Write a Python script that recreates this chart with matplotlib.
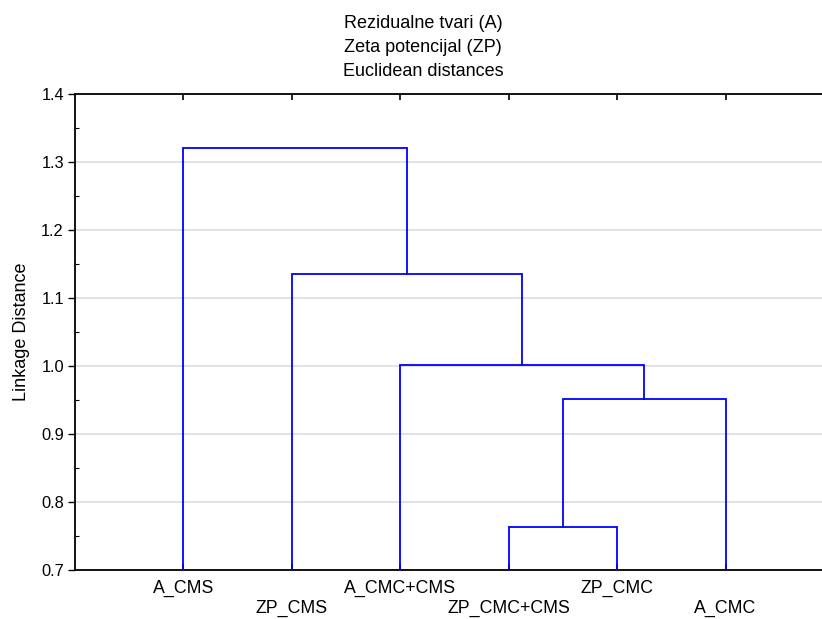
import matplotlib
matplotlib.use("Agg")
from matplotlib import pyplot as plt
from matplotlib.ticker import MultipleLocator

plt.rcParams['font.family'] = ['Liberation Sans', 'DejaVu Sans']

leaves = ['A_CMS', 'ZP_CMS', 'A_CMC+CMS', 'ZP_CMC+CMS', 'ZP_CMC', 'A_CMC']
# merges: (left cluster, right cluster, linkage distance); new clusters get ids 6, 7, ...
merges = [(3, 4, 0.763), (6, 5, 0.952), (2, 7, 1.001), (1, 8, 1.136), (0, 9, 1.321)]
title_lines = ['Rezidualne tvari (A)', 'Zeta potencijal (ZP)', 'Euclidean distances']

fig = plt.figure(figsize=(8.22, 6.19), dpi=100)
ax = fig.add_axes([75 / 822, 1 - 570 / 619, 1 - 75 / 822, (570 - 94) / 619])

pos = {i: (i + 1, 0.7) for i in range(len(leaves))}
for k, (a, b, h) in enumerate(merges):
    xa, ya = pos[a]
    xb, yb = pos[b]
    ax.plot([xa, xa, xb, xb], [ya, h, h, yb], color='#0000ff', lw=1.3,
            solid_joinstyle='miter', zorder=3)
    pos[len(leaves) + k] = ((xa + xb) / 2, h)

ax.set_xlim(0, 6.89)
ax.set_ylim(0.7, 1.4)
ax.yaxis.set_major_locator(MultipleLocator(0.1))
ax.yaxis.set_minor_locator(MultipleLocator(0.05))
ax.yaxis.set_major_formatter(matplotlib.ticker.FormatStrFormatter('%.1f'))
ax.grid(axis='y', color='#dddddd', lw=1.2, zorder=0)
ax.set_axisbelow(True)

ax.set_xticks(range(1, len(leaves) + 1))
ax.set_xticklabels(leaves)
ax.tick_params(axis='x', direction='in', length=4, width=1.2, top=True,
               labelsize=12.8, pad=7)
ax.tick_params(axis='y', which='major', direction='out', length=5, width=1,
               labelsize=11.8, pad=3)
ax.tick_params(axis='y', which='minor', direction='in', length=3, width=0.8)
for i, t in enumerate(ax.xaxis.get_major_ticks()):
    if i % 2 == 1:
        t.set_pad(21.5)

for s in ['left', 'bottom', 'top']:
    ax.spines[s].set_linewidth(1.3)
ax.spines['right'].set_visible(False)

ax.set_ylabel('Linkage Distance', fontsize=13, labelpad=8)

for j, line in enumerate(title_lines):
    fig.text(423 / 822, 1 - (24 + 23.5 * j) / 619, line, ha='center', va='center',
             fontsize=13)

fig.savefig('out.png', dpi=100)
